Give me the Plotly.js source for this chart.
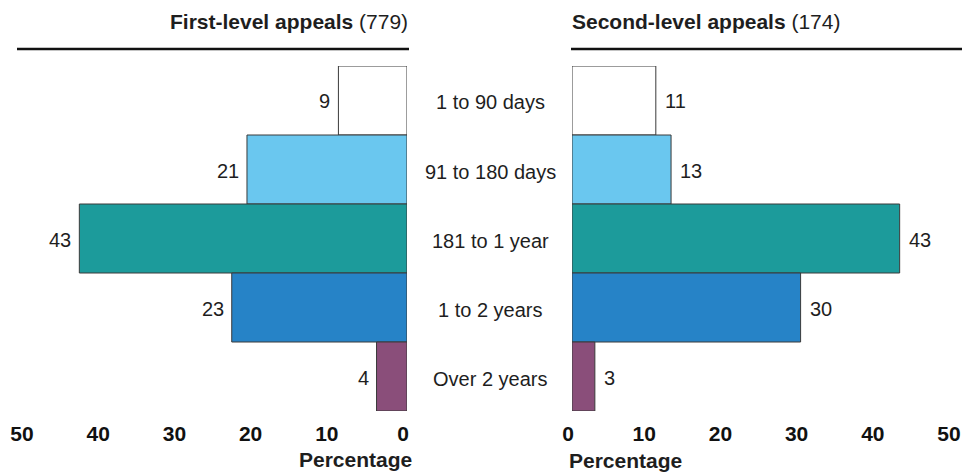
<!DOCTYPE html>
<html>
<head>
<meta charset="utf-8">
<script src="https://cdn.plot.ly/plotly-3.0.1.min.js"></script>
<style>html,body{margin:0;padding:0;background:#fff;}#chart{width:962px;height:472px;}</style>
</head>
<body>
<div id="chart"></div>
<script>
const categories = ["1 to 90 days", "91 to 180 days", "181 to 1 year", "1 to 2 years", "Over 2 years"];
const firstLevel = [9, 21, 43, 23, 4];
const secondLevel = [11, 13, 43, 30, 3];
const firstTotal = 779;
const secondTotal = 174;
const tickVals = [0, 10, 20, 30, 40, 50];
const barColors = ["#ffffff", "#6ac7ef", "#1c9b9b", "#2683c7", "#8a4e7a"];

const FONT = "Liberation Sans, Arial, Helvetica, sans-serif";
const FS = 20;
const FSB = 21;
const TXT = "#1e1e1e";

const traces = [
  {
    type: "bar", orientation: "h", x: firstLevel, y: categories,
    xaxis: "x", yaxis: "y",
    marker: {color: barColors, line: {color: "#3a3a3a", width: 1}},
    width: 1, hoverinfo: "skip", showlegend: false
  },
  {
    type: "bar", orientation: "h", x: secondLevel, y: categories,
    xaxis: "x2", yaxis: "y2",
    marker: {color: barColors, line: {color: "#3a3a3a", width: 1}},
    width: 1, hoverinfo: "skip", showlegend: false
  }
];

const annotations = [];
categories.forEach((c, i) => {
  annotations.push({xref: "x", yref: "y", x: firstLevel[i], y: c, text: String(firstLevel[i]),
    showarrow: false, xanchor: "right", xshift: -6, yshift: -1, font: {family: FONT, size: FS, color: TXT}});
  annotations.push({xref: "x2", yref: "y2", x: secondLevel[i], y: c, text: String(secondLevel[i]),
    showarrow: false, xanchor: "left", xshift: 7, yshift: -1, font: {family: FONT, size: FS, color: TXT}});
  annotations.push({xref: "paper", yref: "y", x: 490 / 962, y: c, text: c,
    showarrow: false, xanchor: "center", yshift: -2, font: {family: FONT, size: FS, color: TXT}});
});
annotations.push({xref: "paper", yref: "paper", x: 410 / 962, y: 1 - 22 / 472, xanchor: "right", yanchor: "middle",
  text: "<b>First-level appeals</b> (" + firstTotal + ")", showarrow: false, font: {family: FONT, size: FSB, color: TXT}});
annotations.push({xref: "paper", yref: "paper", x: 570 / 962, y: 1 - 22 / 472, xanchor: "left", yanchor: "middle",
  text: "<b>Second-level appeals</b> (" + secondTotal + ")", showarrow: false, font: {family: FONT, size: FSB, color: TXT}});
annotations.push({xref: "paper", yref: "paper", x: 414 / 962, y: 1 - 459 / 472, xanchor: "right", yanchor: "middle",
  text: "<b>Percentage</b>", showarrow: false, font: {family: FONT, size: FSB, color: TXT}});
annotations.push({xref: "paper", yref: "paper", x: 567 / 962, y: 1 - 460 / 472, xanchor: "left", yanchor: "middle",
  text: "<b>Percentage</b>", showarrow: false, font: {family: FONT, size: FSB, color: TXT}});

const yDom = [1 - 411 / 472, 1 - 66 / 472];
const tickFont = {family: FONT, size: FSB, color: "#111"};
const tickText = tickVals.map(v => "<b>" + v + "</b>");

const layout = {
  width: 962, height: 472,
  margin: {l: 0, r: 0, t: 0, b: 0},
  paper_bgcolor: "#fff", plot_bgcolor: "rgba(0,0,0,0)",
  bargap: 0,
  xaxis: {domain: [26 / 962, 407 / 962], range: [50, 0], tickvals: tickVals, ticktext: tickText,
    showgrid: false, zeroline: false, showline: false, ticks: "", tickfont: tickFont, fixedrange: true,
    ticklabelshift: 4, ticklabelstandoff: 8, ticklabeloverflow: "allow"},
  xaxis2: {domain: [572 / 962, 953 / 962], range: [0, 50], tickvals: tickVals, ticktext: tickText,
    showgrid: false, zeroline: false, showline: false, ticks: "", tickfont: tickFont, anchor: "y2", fixedrange: true,
    ticklabelshift: -4, ticklabelstandoff: 8, ticklabeloverflow: "allow"},
  yaxis: {domain: yDom, categoryorder: "array", categoryarray: categories, autorange: "reversed",
    showticklabels: false, showgrid: false, zeroline: false, showline: false, ticks: "", fixedrange: true},
  yaxis2: {domain: yDom, categoryorder: "array", categoryarray: categories, autorange: "reversed", anchor: "x2",
    showticklabels: false, showgrid: false, zeroline: false, showline: false, ticks: "", fixedrange: true},
  shapes: [
    {type: "line", xref: "paper", yref: "paper", x0: 17 / 962, x1: 409 / 962, y0: 1 - 49 / 472, y1: 1 - 49 / 472,
      line: {color: "#111", width: 2.5}},
    {type: "line", xref: "paper", yref: "paper", x0: 571 / 962, x1: 1, y0: 1 - 49 / 472, y1: 1 - 49 / 472,
      line: {color: "#111", width: 2.5}}
  ],
  annotations: annotations
};

Plotly.newPlot("chart", traces, layout, {displayModeBar: false, staticPlot: true});
</script>
</body>
</html>
